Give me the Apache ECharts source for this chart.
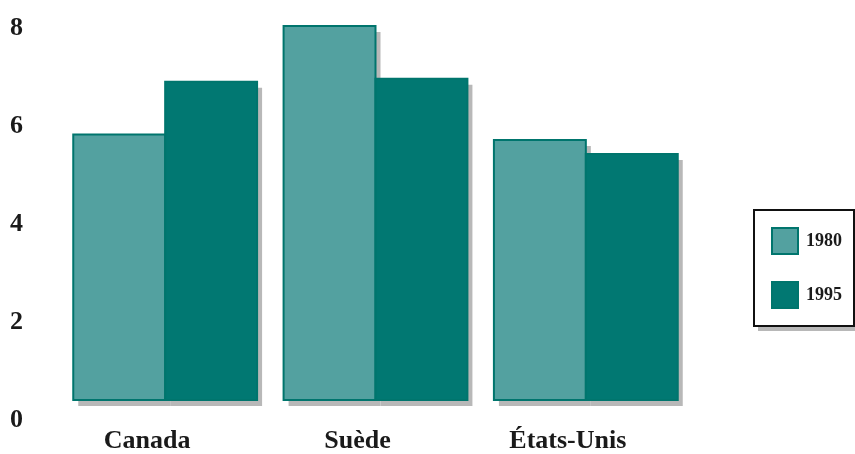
<!DOCTYPE html>
<html>
<head>
<meta charset="utf-8">
<script src="https://cdn.jsdelivr.net/npm/echarts@6/dist/echarts.min.js"></script>
<style>html,body{margin:0;padding:0;background:#fff}#c{width:855px;height:454px}</style>
</head>
<body>
<div id="c"></div>
<script>
const categories = ['Canada', 'Suède', 'États-Unis'];
const values1980 = [5.68, 8.0, 5.56];
const values1995 = [6.81, 6.87, 5.26];
const seriesNames = ['1980', '1995'];
const yTicks = [0, 2, 4, 6, 8];

const FONT = "'Liberation Serif', 'Times New Roman', serif";
const BORDER = '#00756d';
const SHADOW = '#b8b8b8';
const chart = echarts.init(document.getElementById('c'));

function makeRender(slot, fill) {
  return function (params, api) {
    const c = api.value(0), v = api.value(1);
    const top = api.coord([c, v]);
    const base = api.coord([c, 0]);
    const w = api.size([1, 0])[0] * 0.437;
    const x = top[0] - w + slot * w;
    const h = base[1] - top[1];
    return {
      type: 'group',
      children: [
        { type: 'rect', shape: { x: x + 5, y: top[1] + 6, width: w, height: h }, style: { fill: SHADOW } },
        { type: 'rect', shape: { x: x, y: top[1], width: w, height: h }, style: { fill: fill, stroke: BORDER, lineWidth: 2 } }
      ]
    };
  };
}

chart.setOption({
  animation: false,
  grid: [
    { left: 60, right: 164, top: 26, bottom: 52 },
    { left: 40, right: 164, top: 28, bottom: 34 }
  ],
  xAxis: [
    { type: 'category', data: categories, gridIndex: 0,
      axisLine: { show: false }, axisTick: { show: false },
      axisLabel: { margin: 28, padding: [0, 36, 0, 0], fontFamily: FONT, fontWeight: 'bold', fontSize: 26, color: '#1a1a1a' } },
    { type: 'category', data: categories, gridIndex: 1, show: false }
  ],
  yAxis: [
    { type: 'value', gridIndex: 0, min: 0, max: 8, show: false },
    { type: 'value', gridIndex: 1, min: yTicks[0], max: yTicks[yTicks.length - 1], interval: 2,
      axisLine: { show: false }, axisTick: { show: false }, splitLine: { show: false },
      axisLabel: { align: 'left', margin: 30, fontFamily: FONT, fontWeight: 'bold', fontSize: 26, color: '#1a1a1a' } }
  ],
  graphic: [
    { type: 'rect', z: 0, shape: { x: 758, y: 214, width: 102, height: 117 }, style: { fill: SHADOW } },
    { type: 'rect', z: 1, shape: { x: 754, y: 210, width: 100, height: 116 }, style: { fill: '#fff', stroke: '#111', lineWidth: 2 } }
  ],
  legend: {
    orient: 'vertical', left: 755, top: 211, z: 5,
    padding: [16, 12, 19, 16], itemGap: 26, itemWidth: 26, itemHeight: 26,
    icon: 'rect',
    textStyle: { fontFamily: FONT, fontWeight: 'bold', fontSize: 18, color: '#1a1a1a', padding: [0, 0, 0, 3] },
    data: seriesNames
  },
  series: [
    { name: seriesNames[0], type: 'custom', xAxisIndex: 0, yAxisIndex: 0,
      data: values1980.map((v, i) => [i, v]), encode: { x: 0, y: 1 },
      itemStyle: { color: '#53a1a0', borderColor: BORDER, borderWidth: 2 },
      renderItem: makeRender(0, '#53a1a0') },
    { name: seriesNames[1], type: 'custom', xAxisIndex: 0, yAxisIndex: 0,
      data: values1995.map((v, i) => [i, v]), encode: { x: 0, y: 1 },
      itemStyle: { color: '#017872', borderColor: BORDER, borderWidth: 2 },
      renderItem: makeRender(1, '#017872') }
  ]
});
</script>
</body>
</html>
